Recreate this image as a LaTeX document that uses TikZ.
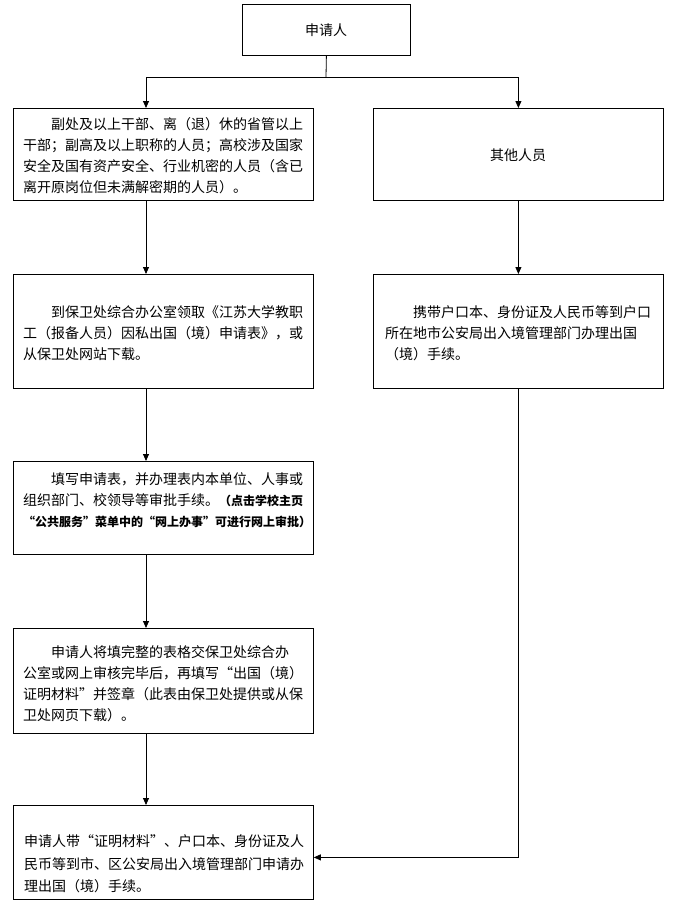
\documentclass[tikz,border=0pt]{standalone}
\usepackage{fontspec}
\setmainfont{Noto Sans CJK SC}
\usetikzlibrary{arrows.meta}
\tikzset{
  box/.style={draw, line width=0.8pt, inner sep=0pt, anchor=north west},
  txt/.style={align=left, inner sep=0pt, anchor=west, font=\fontsize{14}{21}\selectfont},
  ctxt/.style={inner sep=0pt, font=\fontsize{14}{21}\selectfont},
  line/.style={line width=0.8pt},
  arr/.style={line width=0.8pt, -{Triangle[length=7pt,width=6pt]}}
}
\newcommand{\bt}[1]{{\fontsize{12}{21}\selectfont\bfseries #1}}
\begin{document}
\begin{tikzpicture}[x=1pt,y=-1pt]
\useasboundingbox[fill=white] (0,0) rectangle (676,906);
% boxes
\node[box, minimum width=168pt, minimum height=51pt] (top) at (242,4) {};
\node[box, minimum width=300pt, minimum height=92pt] (b1) at (13,108) {};
\node[box, minimum width=290pt, minimum height=92pt] (r1) at (373,108) {};
\node[box, minimum width=300pt, minimum height=114pt] (b2) at (13,274) {};
\node[box, minimum width=290pt, minimum height=114pt] (r2) at (373,274) {};
\node[box, minimum width=300pt, minimum height=93pt] (b3) at (13,461) {};
\node[box, minimum width=300pt, minimum height=105pt] (b4) at (13,628) {};
\node[box, minimum width=300pt, minimum height=94pt] (b5) at (13,805) {};
% texts
\node[ctxt] (ttop) at (326,30) {申请人};
\node[ctxt] (tr1) at (518,155) {其他人员};
\node[txt] (tb1) at (23,156) {\hspace*{2em}副处及以上干部、离（退）休的省管以上\\干部；副高及以上职称的人员；高校涉及国家\\安全及国有资产安全、行业机密的人员（含已\\离开原岗位但未满解密期的人员）。};
\node[txt] (tb2) at (23,333) {\hspace*{2em}到保卫处综合办公室领取《江苏大学教职\\工（报备人员）因私出国（境）申请表》，或\\从保卫处网站下载。};
\node[txt] (tr2) at (385,333) {\hspace*{2em}携带户口本、身份证及人民币等到户口\\所在地市公安局出入境管理部门办理出国\\（境）手续。};
\node[txt] (tb3) at (23,500) {\hspace*{2em}填写申请表，并办理表内本单位、人事或\\组织部门、校领导等审批手续。\bt{（点击学校主页}\\\bt{“公共服务”菜单中的“网上办事”可进行网上审批）}};
\node[txt] (tb4) at (23,684) {\hspace*{2em}申请人将填完整的表格交保卫处综合办\\公室或网上审核完毕后，再填写“出国（境）\\证明材料”并签章（此表由保卫处提供或从保\\卫处网页下载）。};
\node[txt, font=\fontsize{14}{22.5}\selectfont] (tb5) at (24,864) {申请人带“证明材料”、户口本、身份证及人\\民币等到市、区公安局出入境管理部门申请办\\理出国（境）手续。};
% connectors
\coordinate (cl) at (146,0);
\coordinate (split) at (326,77);
\draw[line] (top.south) -- (split);
\draw[arr] (split) -| (b1.north -| cl);
\draw[arr] (split) -| (r1.north);
\draw[arr] (b1.south -| cl) -- (b2.north -| cl);
\draw[arr] (b2.south -| cl) -- (b3.north -| cl);
\draw[arr] (b3.south -| cl) -- (b4.north -| cl);
\draw[arr] (b4.south -| cl) -- (b5.north -| cl);
\draw[arr] (r1.south) -- (r2.north);
\draw[arr] (r2.south) |- ([yshift=-5pt]b5.east);
\end{tikzpicture}
\end{document}
